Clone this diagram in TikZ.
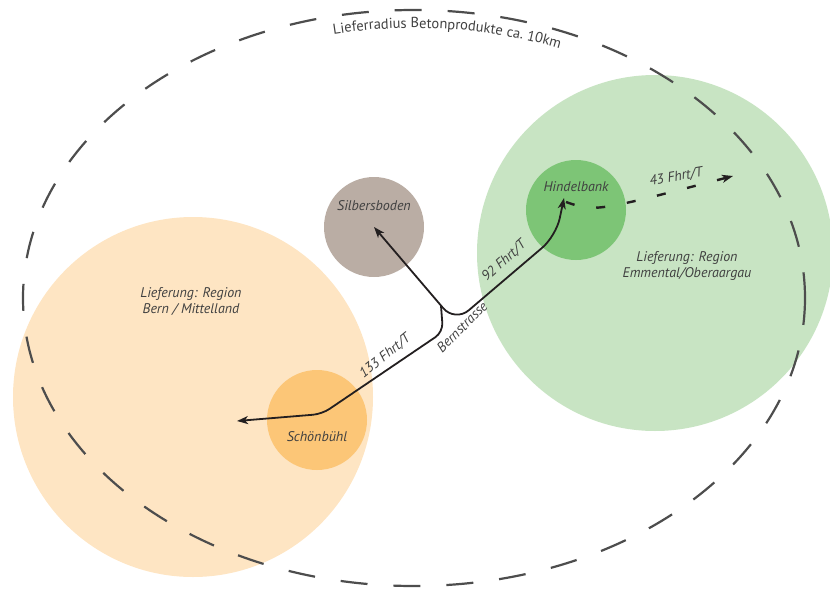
\documentclass[tikz,border=0pt]{standalone}
\usepackage{fontspec}
\setmainfont{PT Sans}
\usepackage{tikz}
\usetikzlibrary{arrows.meta}
\usetikzlibrary{decorations.text}
\definecolor{bernfill}{HTML}{FEE5C3}
\definecolor{schfill}{HTML}{FCC677}
\definecolor{emmefill}{HTML}{C8E4C3}
\definecolor{hinfill}{HTML}{7DC576}
\definecolor{silfill}{HTML}{BAADA4}
\definecolor{labelgray}{HTML}{404040}
\definecolor{ringgray}{HTML}{4D4D4D}
\definecolor{routeblack}{HTML}{231F20}
\tikzset{
    region/.style={circle, draw=none, inner sep=0pt, minimum size=360pt},
    site/.style={circle, draw=none, inner sep=0pt, minimum size=100pt},
    regionlabel/.style={font=\itshape\fontsize{14}{16}\selectfont, text=labelgray, align=center},
    sitelabel/.style={font=\itshape\fontsize{14}{16}\selectfont, text=labelgray},
    tripslabel/.style={font=\itshape\fontsize{14}{16}\selectfont, text=labelgray, inner sep=0pt},
    radiusring/.style={draw=ringgray, line width=2.2pt, dash pattern=on 27pt off 26pt},
    route/.style={draw=routeblack, line width=1.8pt, line join=round},
    tiproute/.style={route, -{Stealth[length=11pt, width=8pt, inset=3pt]}},
    extraroute/.style={draw=routeblack, line width=2.4pt, dash pattern=on 9pt off 22pt,
        -{Stealth[length=11pt, width=8pt, inset=3pt]}}
}
\begin{document}
\begin{tikzpicture}[x=1pt, y=-1pt]
\useasboundingbox (0,0) rectangle (830,589);
% regions and sites
\node[region, fill=bernfill] (bern) at (193,397) {};
\node[region, fill=emmefill, minimum size=356pt] (emme) at (655,253) {};
\node[site, fill=silfill] (sil) at (374,227) {};
\node[site, fill=hinfill] (hin) at (576,210) {};
\node[site, fill=schfill] (sch) at (317,420) {};
% delivery radius
\draw[radiusring] (414,298) ellipse [x radius=391, y radius=288];
\coordinate (titleStart) at ({414+378*cos(-118)},{298+270*sin(-118)});
\path[decorate, decoration={text along path, text align=center, text color=labelgray,
    text={|\fontsize{14.5}{16}\selectfont|Lieferradius Betonprodukte ca. 10km}}]
  (titleStart) arc[start angle=-118, end angle=-51, x radius=378, y radius=270];
% routes
\coordinate (jn) at (441,306);
\coordinate (jnLow) at (443,332);
\coordinate (vtx) at (455,322);
\coordinate (hinBend) at (556,236);
\coordinate (hinTip) at (564,198);
\coordinate (schBend) at (322,414);
\coordinate (schTip) at (237,421);
\coordinate (extraStart) at (566,202);
\coordinate (extraEnd) at (733,176);
\draw[route, {Stealth[length=11pt, width=8pt, inset=3pt]}-{Stealth[length=11pt, width=8pt, inset=3pt]}, rounded corners=18pt]
  (sil.center) -- (vtx) -- (hinBend) -- (hinTip);
\draw[tiproute, rounded corners=9pt] (jn) -- (jnLow) -- (schBend) -- (schTip);
\draw[extraroute] (extraStart) .. controls (595,212) .. (extraEnd);
% labels
\node[regionlabel] (bernTxt) at (191,302) {Lieferung: Region\\Bern / Mittelland};
\node[regionlabel] (emmeTxt) at (687,266) {Lieferung: Region\\Emmental/Oberaargau};
\node[sitelabel] (silTxt) at ([yshift=21pt]sil.center) {Silbersboden};
\node[sitelabel] (hinTxt) at ([yshift=23pt]hin.center) {Hindelbank};
\node[sitelabel] (schTxt) at ([yshift=-17pt]sch.center) {Schönbühl};
\node[tripslabel, rotate=39] (schTrips) at (385,356) {133 Fhrt/T};
\node[tripslabel, rotate=45] (bernTrips) at (462,327) {Bernstrasse};
\node[tripslabel, rotate=42] (hinTrips) at (504,261) {92 Fhrt/T};
\node[tripslabel, rotate=10] (extraTrips) at (676,177) {43 Fhrt/T};
\end{tikzpicture}
\end{document}
